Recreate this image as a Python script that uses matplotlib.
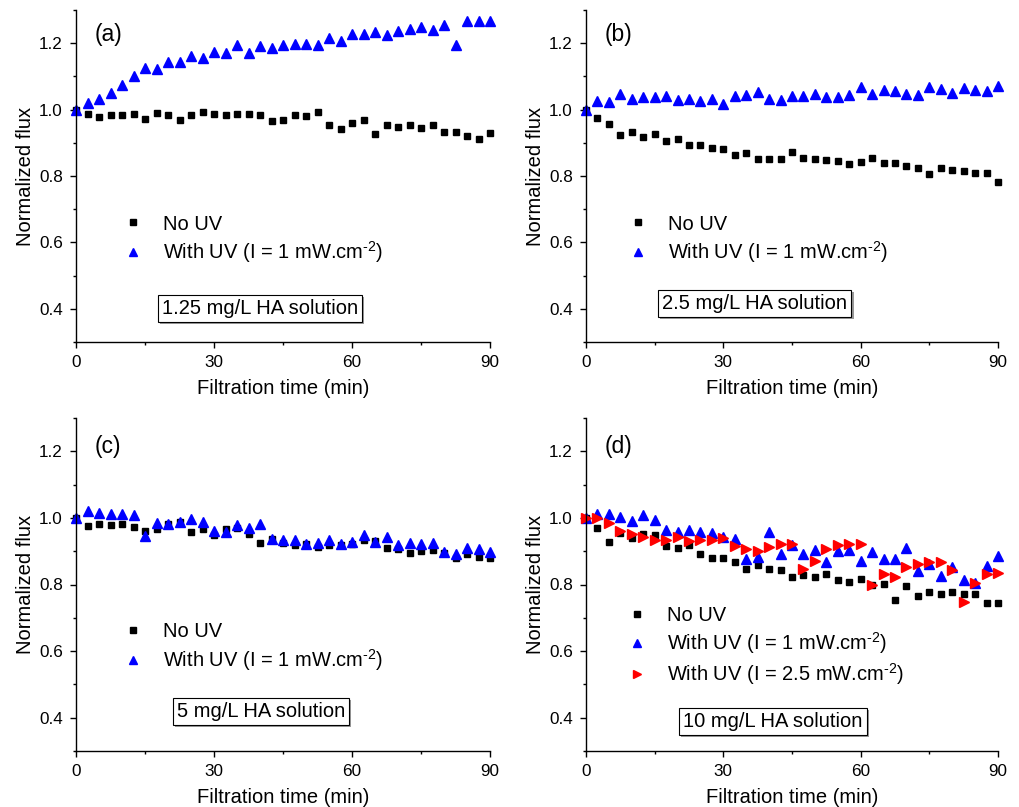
import numpy as np
import matplotlib
matplotlib.use("Agg")
import matplotlib.pyplot as plt
import matplotlib.patheffects as pe
from matplotlib.ticker import MultipleLocator

plt.rcParams['font.family'] = ['Liberation Sans', 'DejaVu Sans']
plt.rcParams['mathtext.fontset'] = 'custom'
plt.rcParams['mathtext.rm'] = 'Liberation Sans'
plt.rcParams['mathtext.it'] = 'Liberation Sans:italic'
plt.rcParams['mathtext.default'] = 'regular'

time = np.arange(0, 90.1, 2.5)

a_no_uv = [1.000, 0.986, 0.978, 0.983, 0.983, 0.988, 0.971, 0.990, 0.984, 0.968,
           0.984, 0.993, 0.988, 0.985, 0.988, 0.988, 0.983, 0.967, 0.970, 0.983,
           0.980, 0.993, 0.955, 0.943, 0.959, 0.970, 0.928, 0.954, 0.948, 0.954,
           0.945, 0.954, 0.933, 0.933, 0.921, 0.910, 0.930]
a_uv1 = [1.000, 1.020, 1.032, 1.050, 1.074, 1.100, 1.126, 1.123, 1.142, 1.142,
         1.161, 1.156, 1.175, 1.171, 1.196, 1.171, 1.192, 1.187, 1.194, 1.199,
         1.199, 1.196, 1.215, 1.208, 1.228, 1.228, 1.235, 1.225, 1.237, 1.242,
         1.248, 1.240, 1.255, 1.195, 1.268, 1.267, 1.267]

b_no_uv = [1.000, 0.975, 0.957, 0.924, 0.932, 0.917, 0.927, 0.905, 0.910, 0.892,
           0.893, 0.883, 0.880, 0.863, 0.870, 0.852, 0.850, 0.850, 0.872, 0.855,
           0.850, 0.848, 0.845, 0.835, 0.842, 0.853, 0.840, 0.840, 0.830, 0.823,
           0.807, 0.825, 0.817, 0.815, 0.808, 0.810, 0.783]
b_uv1 = [1.000, 1.025, 1.022, 1.048, 1.033, 1.038, 1.038, 1.040, 1.030, 1.033,
         1.027, 1.033, 1.017, 1.042, 1.045, 1.054, 1.032, 1.030, 1.042, 1.042,
         1.046, 1.038, 1.038, 1.043, 1.067, 1.048, 1.060, 1.055, 1.048, 1.045,
         1.067, 1.062, 1.050, 1.065, 1.060, 1.055, 1.072]

c_no_uv = [1.000, 0.975, 0.981, 0.980, 0.983, 0.973, 0.961, 0.968, 0.981, 0.988,
           0.958, 0.966, 0.948, 0.968, 0.970, 0.951, 0.926, 0.936, 0.926, 0.918,
           0.923, 0.913, 0.918, 0.918, 0.921, 0.935, 0.930, 0.911, 0.906, 0.896,
           0.901, 0.903, 0.896, 0.880, 0.893, 0.883, 0.881]
c_uv1 = [1.000, 1.021, 1.016, 1.013, 1.011, 1.008, 0.947, 0.986, 0.983, 0.988,
         0.998, 0.989, 0.961, 0.958, 0.978, 0.971, 0.981, 0.938, 0.933, 0.933,
         0.923, 0.925, 0.935, 0.923, 0.928, 0.948, 0.928, 0.943, 0.920, 0.926,
         0.921, 0.925, 0.898, 0.893, 0.911, 0.908, 0.898]

d_no_uv = [1.000, 0.970, 0.928, 0.955, 0.941, 0.951, 0.948, 0.916, 0.910, 0.918,
           0.891, 0.881, 0.880, 0.868, 0.846, 0.858, 0.848, 0.843, 0.823, 0.828,
           0.823, 0.831, 0.813, 0.808, 0.818, 0.800, 0.801, 0.753, 0.795, 0.765,
           0.778, 0.770, 0.776, 0.771, 0.770, 0.745, 0.745]
d_uv1 = [1.000, 1.013, 1.011, 1.003, 0.990, 1.008, 0.993, 0.965, 0.958, 0.963,
         0.958, 0.956, 0.943, 0.938, 0.878, 0.883, 0.958, 0.893, 0.920, 0.891,
         0.905, 0.868, 0.900, 0.903, 0.871, 0.898, 0.878, 0.878, 0.910, 0.841,
         0.863, 0.825, 0.853, 0.815, 0.805, 0.856, 0.885]
d_uv25 = [1.000, 1.000, 0.985, 0.961, 0.953, 0.943, 0.933, 0.935, 0.943, 0.931,
          0.933, 0.935, 0.941, 0.916, 0.908, 0.900, 0.913, 0.921, 0.923, 0.848,
          0.870, 0.908, 0.920, 0.921, 0.923, 0.798, 0.831, 0.823, 0.853, 0.861,
          0.868, 0.868, 0.845, 0.748, 0.805, 0.833, 0.835]

lbl_no = 'No UV'
lbl_1 = r'With UV (I = 1 mW.cm$^{\text{-}2}$)'
lbl_25 = r'With UV (I = 2.5 mW.cm$^{\text{-}2}$)'

fig = plt.figure(figsize=(10.19, 8.07), dpi=100)
W, H = 1019, 807

def make_ax(l, r, t, b):
    return fig.add_axes([l / W, (H - b) / H, (r - l) / W, (b - t) / H])

axes = [make_ax(76, 490, 10, 342), make_ax(586, 998, 10, 342),
        make_ax(76, 490, 418, 751), make_ax(586, 998, 418, 751)]

series = [
    [(a_no_uv, 's', 'black', lbl_no), (a_uv1, '^', '#0000ff', lbl_1)],
    [(b_no_uv, 's', 'black', lbl_no), (b_uv1, '^', '#0000ff', lbl_1)],
    [(c_no_uv, 's', 'black', lbl_no), (c_uv1, '^', '#0000ff', lbl_1)],
    [(d_no_uv, 's', 'black', lbl_no), (d_uv1, '^', '#0000ff', lbl_1),
     (d_uv25, '>', '#ff0000', lbl_25)],
]
tags = ['(a)', '(b)', '(c)', '(d)']
tag_y = [0.925, 0.925, 0.913, 0.913]
boxes = ['1.25 mg/L HA solution', '2.5 mg/L HA solution',
         '5 mg/L HA solution', '10 mg/L HA solution']
box_xy = [(0.444, 0.10), (0.41, 0.117), (0.447, 0.12), (0.454, 0.09)]
leg_xy = [(0.114, 0.384), (0.102, 0.384), (0.114, 0.387), (0.10, 0.434)]
leg_sp = [0.3, 0.3, 0.3, 0.25]

for i, ax in enumerate(axes):
    for vals, m, c, lab in series[i]:
        ms = 5 if m == 's' else 6.5
        ax.plot(time, vals, ls='none', marker=m, ms=ms, color=c, mec=c, label=lab,
                clip_on=False)
    ax.set_xlim(0, 90)
    ax.set_ylim(0.3, 1.3)
    ax.xaxis.set_major_locator(MultipleLocator(30))
    ax.xaxis.set_minor_locator(MultipleLocator(15))
    ax.yaxis.set_minor_locator(MultipleLocator(0.1))
    ax.set_yticks([0.4, 0.6, 0.8, 1.0, 1.2])
    ax.tick_params(which='major', direction='out', length=4.5, width=1, labelsize=12.3,
                   pad=5)
    ax.tick_params(which='minor', direction='out', length=2.5, width=1)
    ax.spines['top'].set_visible(False)
    ax.spines['right'].set_visible(False)
    ax.spines['left'].set_linewidth(1)
    ax.spines['bottom'].set_linewidth(1)
    ax.set_xlabel('Filtration time (min)', fontsize=14.5, labelpad=6)
    ax.set_ylabel('Normalized flux', fontsize=14.5, labelpad=3)
    ax.text(0.046, tag_y[i], tags[i], transform=ax.transAxes, fontsize=16.5,
            ha='left', va='center')
    ax.legend(loc='upper left', bbox_to_anchor=leg_xy[i], frameon=False,
              fontsize=14.5, handlelength=1, handletextpad=1.0,
              labelspacing=leg_sp[i], borderpad=0, borderaxespad=0,
              markerscale=0.8)
    t = ax.text(box_xy[i][0], box_xy[i][1], boxes[i], transform=ax.transAxes,
                fontsize=14.5, ha='center', va='center',
                bbox=dict(boxstyle='square,pad=0.2', fc='white', ec='black', lw=0.8))
    t.get_bbox_patch().set_path_effects([pe.SimplePatchShadow(offset=(1.5, -1.5),
                                         shadow_rgbFace='gray', alpha=0.8),
                                         pe.Normal()])

fig.savefig('out.png', dpi=100)
